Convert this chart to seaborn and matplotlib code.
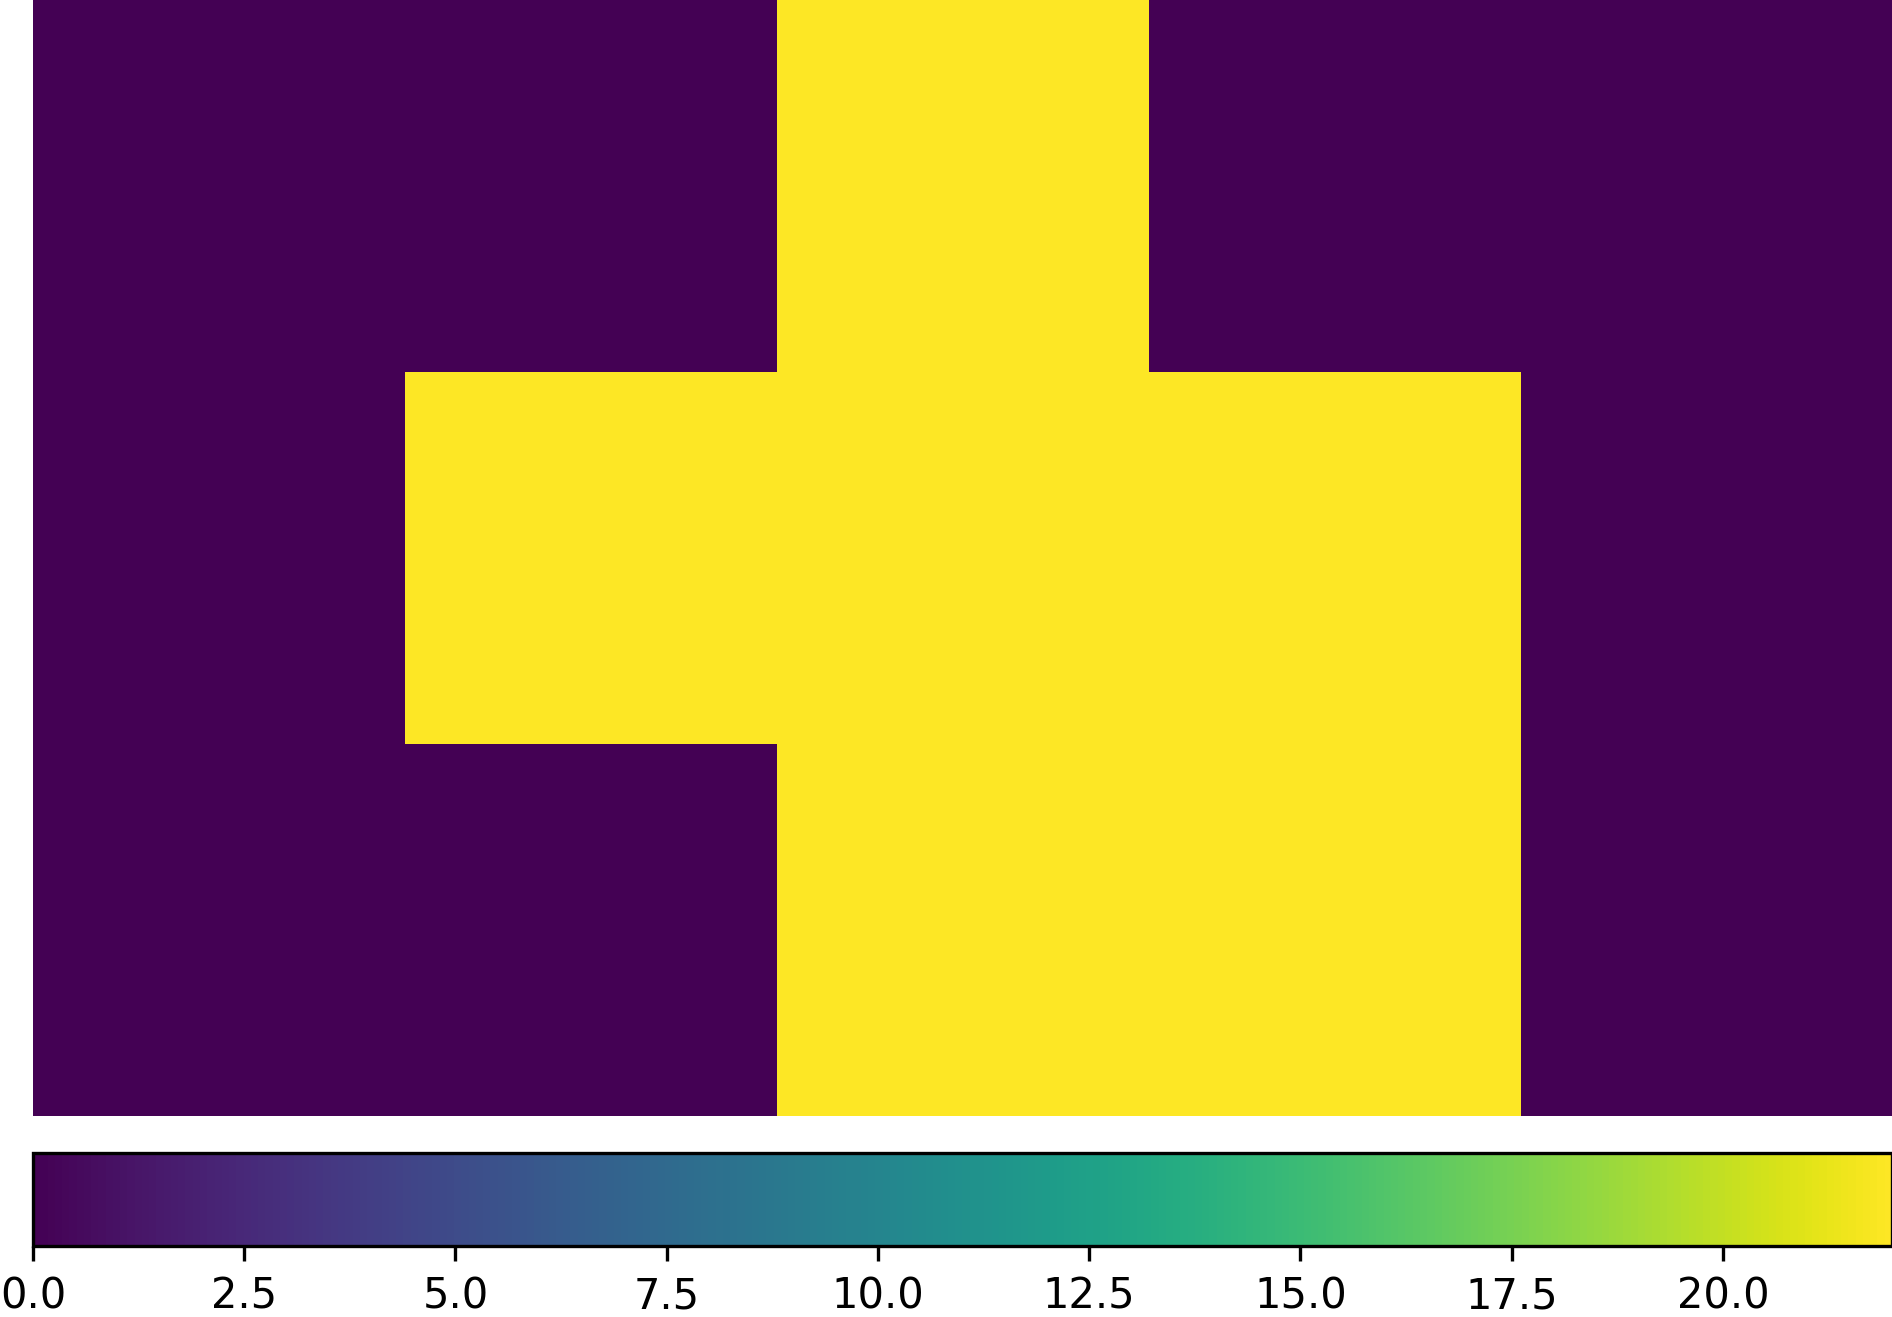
import numpy as np
import matplotlib
matplotlib.use('Agg')
import matplotlib.pyplot as plt
import seaborn as sns

# grid values (3 rows x 5 columns)
row_top = [0, 0, 22, 0, 0]
row_mid = [0, 22, 22, 22, 0]
row_bottom = [0, 0, 22, 22, 0]
cbar_min = 0
cbar_max = 22

grid = np.array([row_top, row_mid, row_bottom], dtype=float)

W, H = 1893, 1317
fig = plt.figure(figsize=(W / 300, H / 300), dpi=300)

# heatmap area and colorbar area in figure fractions
left = 33
ax = fig.add_axes([left / W, (H - 1116) / H, (W - left) / W, 1116 / H])
cax = fig.add_axes([left / W, (H - 1246) / H, (1892 - left) / W, (1246 - 1153) / H])

sns.heatmap(grid, ax=ax, cmap='viridis', vmin=cbar_min, vmax=cbar_max,
            xticklabels=False, yticklabels=False,
            cbar_ax=cax, cbar_kws={'orientation': 'horizontal'})

cbar = ax.collections[0].colorbar
cbar.outline.set_visible(True)
cbar.outline.set_linewidth(0.8)
cbar.outline.set_edgecolor('black')
cbar.set_ticks(np.arange(0, 22.5, 2.5))
cbar.ax.tick_params(labelsize=10, length=3.5, width=0.8)

fig.savefig('out.png', dpi=300)
